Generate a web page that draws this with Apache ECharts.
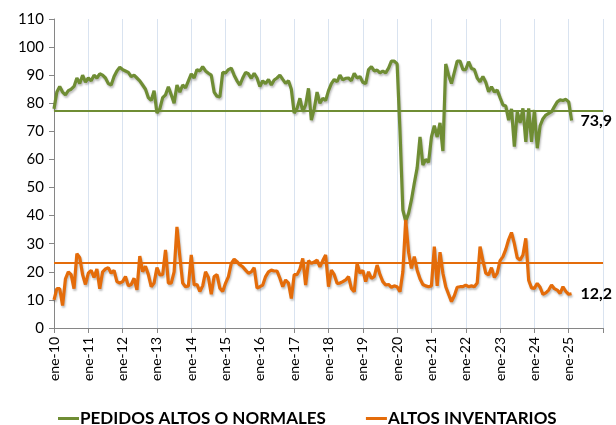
<!DOCTYPE html>
<html>
<head>
<meta charset="utf-8">
<script src="https://cdn.jsdelivr.net/npm/echarts@6/dist/echarts.min.js"></script>
<style>
  body { margin: 0; background: #fff; }
  #grafico { width: 616px; height: 425px; }
</style>
</head>
<body>
<div id="grafico"></div>
<script>
// meses y años del eje
var meses = ['ene','feb','mar','abr','may','jun','jul','ago','sep','oct','nov','dic'];
var anios = ['10','11','12','13','14','15','16','17','18','19','20','21','22','23','24','25','26'];

var pedidos = [
  78, 84, 86, 84, 83, 84.5, 85, 86, 89, 87, 90, 87.5,
  89, 88, 90, 89, 90.5, 90, 89, 87, 86.5, 89.5, 91.5, 92.8,
  92, 91.5, 91, 89.5, 90, 89, 88, 86.5, 85, 82, 81, 84.5,
  76.5, 78, 82, 83, 85.9, 83, 80, 86.5, 84, 86.5, 85.5, 88,
  90.5, 89, 92, 91.5, 93, 91.5, 90.7, 90, 84, 82.5, 82.3, 91,
  90.8, 92, 92.5, 90, 88, 86.5, 89, 91, 90.5, 88.9, 90.7, 89,
  86, 88, 87, 88.5, 86.5, 88.3, 89, 90, 88.5, 87.1, 88, 85,
  76.5, 78.2, 81.8, 77, 79.4, 85.3, 74, 78, 84, 80, 81.8, 81,
  84.5, 87, 88.5, 87.7, 90, 88.3, 88.9, 89, 88, 90.7, 89, 89.5,
  87.5, 87, 92, 93, 91.5, 91.8, 90.8, 91.5, 90.8, 92.5, 95, 95,
  94, 70, 42, 38, 40.8, 45.6, 51.5, 57, 68, 58, 60, 59,
  68, 72, 68, 73, 63, 94, 90, 87, 91, 95, 95, 92,
  92, 94.8, 92.4, 92, 89, 87.7, 89.5, 87.5, 84.1, 85.9, 84, 84.7,
  82, 79.4, 79, 74, 78, 64.6, 77, 73, 78.2, 66.3, 78.2, 66.3,
  77.6, 64, 72, 74.5, 75.8, 76.4, 77, 78.8, 80.5, 81.2, 81, 81.4,
  80.5, 73.9
];

var inventarios = [
  10, 14, 14, 8, 17.5, 20, 19, 14, 26.5, 25, 19, 15.5,
  19.5, 20.5, 18, 21, 14, 20, 21, 21.5, 19.5, 20.5, 16.5, 16,
  16.5, 18.3, 15, 15.5, 17.7, 13.6, 25.6, 20, 22, 19, 14.7, 16,
  21.5, 18.9, 19, 27.8, 16, 16, 20, 36, 25.5, 16, 14.7, 15,
  26, 15.3, 15.5, 13, 15, 20, 18, 12, 18.3, 19, 14.2, 13,
  16, 18.3, 23, 24.5, 23.6, 22.5, 21.8, 20.6, 19.5, 20, 21.5, 14.2,
  14.7, 15.3, 18.3, 20, 20.6, 20.3, 20.3, 17.7, 14.7, 17.1, 16, 10.5,
  19, 19, 21, 24.8, 15.3, 24, 23, 23.5, 24.2, 21.8, 24, 26,
  14.7, 20.6, 19, 15.9, 16, 16.5, 17.1, 18.3, 14.1, 12.9, 23, 19.5,
  20.5, 16.5, 20, 17.7, 18.3, 22.4, 19, 16.5, 15.3, 15.5, 14.5, 15,
  14.7, 12.9, 20, 38.5, 27, 21.2, 25.4, 20.6, 17.5, 15.5, 15, 14.7,
  15, 29, 15, 27, 19.5, 14.7, 12, 9.4, 11.5, 14.5, 14.7, 14.7,
  15.3, 14.7, 15, 14.7, 16, 29, 24, 19.5, 18.9, 21.5, 18, 19.5,
  24, 25.4, 28, 31.5, 34, 30, 25, 24.2, 26, 31.9, 17, 14.3,
  14.1, 15.9, 14.5, 12, 12.5, 13.5, 15.3, 14, 13.5, 12.3, 14.7, 13,
  12, 12.2
];

// promedios (lineas horizontales)
var promedioPedidos = 77.2;
var promedioInventarios = 23.4;

var verde = '#6f8d34';
var naranja = '#e46c0a';

var fechas = [];
for (var a = 0; a < anios.length; a++) {
  for (var m = 0; m < 12; m++) {
    fechas.push(meses[m] + '-' + anios[a]);
    if (a == anios.length - 1) break; // el eje termina en ene-26
  }
}

function cadaAnio(i) {
  return i % 12 === 0;
}

function coma(p) {
  return p.value.toFixed(1).replace('.', ',');
}

var chart = echarts.init(document.getElementById('grafico'));

var sombra = {
  shadowColor: 'rgba(0,0,0,0.25)',
  shadowBlur: 2,
  shadowOffsetX: 1,
  shadowOffsetY: 2
};

var etiquetaFinal = {
  show: true,
  formatter: coma,
  fontSize: 16,
  fontWeight: 'bold',
  color: '#000',
  distance: 9
};

var option = {
  backgroundColor: '#fff',
  animation: false,
  textStyle: { fontFamily: 'Lato' },
  grid: { left: 54, right: 13, top: 19, bottom: 97 },
  legend: {
    left: 53,
    top: 405,
    icon: 'rect',
    itemWidth: 21,
    itemHeight: 3,
    itemGap: 40,
    textStyle: { fontSize: 17, fontWeight: 'bold', color: '#000', padding: [0, 0, 0, -4] },
    data: ['PEDIDOS ALTOS O NORMALES', 'ALTOS INVENTARIOS']
  },
  xAxis: {
    type: 'category',
    boundaryGap: false,
    data: fechas,
    axisLine: { lineStyle: { color: '#868686', width: 1 } },
    axisTick: { interval: cadaAnio, length: 5, lineStyle: { color: '#868686' } },
    axisLabel: {
      interval: function (i) { return cadaAnio(i) && i < fechas.length - 1; },
      rotate: 90,
      margin: 9,
      fontSize: 14,
      color: '#000'
    },
    splitLine: { show: true, interval: cadaAnio, lineStyle: { color: '#d9e3f0', width: 1 } }
  },
  yAxis: {
    type: 'value',
    min: 0,
    max: 110,
    interval: 10,
    axisLine: { show: true, lineStyle: { color: '#868686', width: 1 } },
    axisTick: { show: true, length: 5, lineStyle: { color: '#868686' } },
    axisLabel: { fontSize: 15, color: '#000', margin: 10 },
    splitLine: { show: false }
  },
  series: [
    {
      name: 'PEDIDOS ALTOS O NORMALES',
      type: 'line',
      data: pedidos,
      showSymbol: false,
      color: verde,
      lineStyle: Object.assign({ width: 3.2, color: verde }, sombra),
      endLabel: etiquetaFinal,
      markLine: {
        silent: true,
        symbol: 'none',
        label: { show: false },
        lineStyle: { color: verde, width: 2, type: 'solid' },
        data: [{ yAxis: promedioPedidos }]
      }
    },
    {
      name: 'ALTOS INVENTARIOS',
      type: 'line',
      data: inventarios,
      showSymbol: false,
      color: naranja,
      lineStyle: Object.assign({ width: 3.2, color: naranja }, sombra),
      endLabel: etiquetaFinal,
      markLine: {
        silent: true,
        symbol: 'none',
        label: { show: false },
        lineStyle: { color: naranja, width: 2, type: 'solid' },
        data: [{ yAxis: promedioInventarios }]
      }
    }
  ]
};

option && chart.setOption(option);
</script>
</body>
</html>
